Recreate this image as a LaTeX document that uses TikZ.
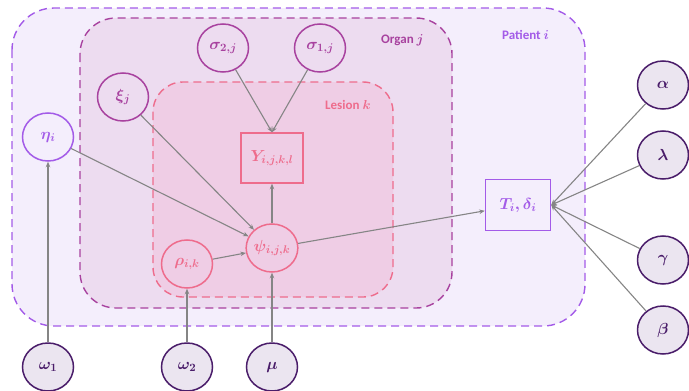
\RequirePackage{fix-cm}
\documentclass[tikz,border=0pt]{standalone}
\usepackage{fontspec}
\setsansfont{Carlito}
\usepackage{amsmath}
\usepackage{bm}
\usetikzlibrary{arrows.meta,shapes.geometric}
\definecolor{patFill}{HTML}{F4EEFC}
\definecolor{patLine}{HTML}{A35BE8}
\definecolor{orgFill}{HTML}{EDDCF0}
\definecolor{orgLine}{HTML}{A8429F}
\definecolor{lesFill}{HTML}{EFCDE5}
\definecolor{lesLine}{HTML}{EE6C8C}
\definecolor{outFill}{HTML}{EBE5F0}
\definecolor{outLine}{HTML}{4A1D6A}
\definecolor{edgeCol}{HTML}{858585}
\tikzset{
  plate/.style={dashed, dash pattern=on 8pt off 5pt, line width=1.4pt},
  platelabel/.style={font=\sffamily\bfseries\fontsize{13}{15}\selectfont\boldmath, inner sep=0pt},
  var/.style={ellipse, minimum width=51pt, minimum height=48pt, inner sep=0pt, line width=1.5pt, font=\fontsize{16}{18}\selectfont\boldmath},
  obs/.style={rectangle, inner sep=0pt, line width=1.5pt, font=\fontsize{16}{18}\selectfont\boldmath},
  hyper/.style={var, draw=outLine, fill=outFill, text=outLine},
  edge/.style={draw=edgeCol, line width=1.1pt, -{Stealth[length=5.5pt,width=4.5pt]}}
}
\begin{document}
\begin{tikzpicture}[x=1pt,y=-1pt]
\useasboundingbox (0,0) rectangle (689,391);
% plates
\draw[plate, draw=patLine, fill=patFill, rounded corners=42pt] (12,8) rectangle (585,326);
\draw[plate, draw=orgLine, fill=orgFill, rounded corners=36pt] (80,18) rectangle (452,308);
\draw[plate, draw=lesLine, fill=lesFill, rounded corners=30pt] (153,82) rectangle (393,297);
\node[platelabel, text=patLine, anchor=west] (patlab) at (502,35) {Patient $i$};
\node[platelabel, text=orgLine, anchor=west] (orglab) at (381,40) {Organ $j$};
\node[platelabel, text=lesLine, anchor=west] (leslab) at (325,105) {Lesion $k$};
% nodes
\node[var, draw=orgLine, fill=orgFill, text=orgLine] (s2) at (223,48) {$\sigma_{2,j}$};
\node[var, draw=orgLine, fill=orgFill, text=orgLine] (s1) at (320,48) {$\sigma_{1,j}$};
\node[var, draw=orgLine, fill=orgFill, text=orgLine] (xi) at (123,97) {$\xi_{j}$};
\node[var, draw=patLine, fill=patFill, text=patLine] (eta) at (48,137) {$\eta_{i}$};
\node[obs, draw=lesLine, fill=lesFill, text=lesLine, minimum width=62pt, minimum height=50pt] (Y) at (272,158) {$Y_{i,j,k,l}$};
\node[var, draw=lesLine, fill=lesFill, text=lesLine] (psi) at (272,248) {$\psi_{i,j,k}$};
\node[var, draw=lesLine, fill=lesFill, text=lesLine] (rho) at (187,264) {$\rho_{i,k}$};
\node[obs, draw=patLine, fill=patFill, text=patLine, minimum width=65pt, minimum height=51pt] (T) at (518,205) {$T_{i},\delta_{i}$};
\node[hyper] (alpha) at (663,85) {$\alpha$};
\node[hyper] (lambda) at (663,155) {$\lambda$};
\node[hyper] (gamma) at (663,260) {$\gamma$};
\node[hyper] (beta) at (663,330) {$\beta$};
\node[hyper] (w1) at (48,367) {$\omega_1$};
\node[hyper] (w2) at (187,367) {$\omega_2$};
\node[hyper] (mu) at (272,367) {$\mu$};
% edges
\path[edge] (w1) -- (eta);
\path[edge] (w2) -- (rho);
\path[edge] (mu) -- (psi);
\path[edge] (eta) -- (psi);
\path[edge] (xi) -- (psi);
\path[edge] (rho) -- (psi);
\path[edge] (psi) -- (Y);
\path[edge] (s2) -- (Y.north);
\path[edge] (s1) -- (Y.north);
\path[edge] (psi) -- (T);
\path[edge] (alpha) -- (T.east);
\path[edge] (lambda) -- (T.east);
\path[edge] (gamma) -- (T.east);
\path[edge] (beta) -- (T.east);
\end{tikzpicture}
\end{document}
